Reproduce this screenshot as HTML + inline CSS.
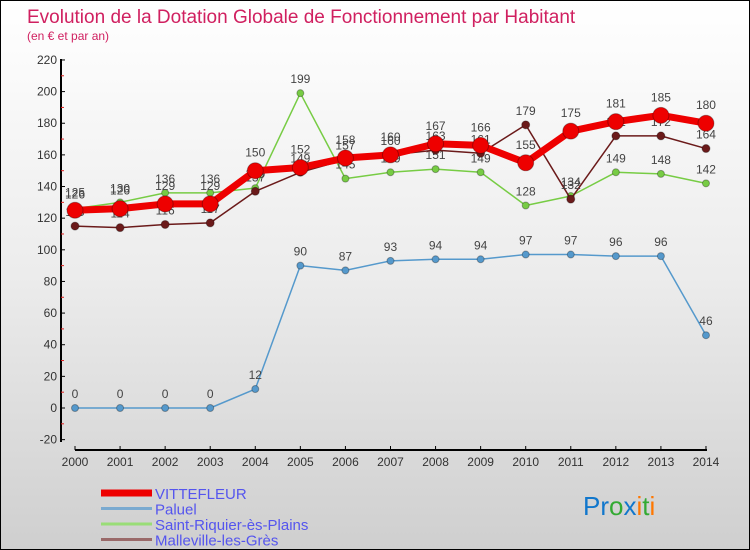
<!DOCTYPE html>
<html><head><meta charset="utf-8"><style>
body{margin:0;width:750px;height:550px;overflow:hidden;font-family:"Liberation Sans",sans-serif}
#wrap{position:relative;width:748px;height:548px;border:1px solid #000;background:linear-gradient(#fff 0%,#ececec 50%,#cfcfcf 100%)}
</style></head><body>
<div id="wrap">
<svg id="chart" width="748" height="548" style="position:absolute;left:0;top:0"></svg>
</div>
<script>
const years=["2000","2001","2002","2003","2004","2005","2006","2007","2008","2009","2010","2011","2012","2013","2014"];
const vittefleur=[125,126,129,129,150,152,158,160,167,166,155,175,181,185,180];
const paluel=[0,0,0,0,12,90,87,93,94,94,97,97,96,96,46];
const saintRiquier=[126,130,136,136,139,199,145,149,151,149,128,134,149,148,142];
const malleville=[115,114,116,117,137,149,157,160,163,161,179,132,172,172,164];
const yTicks=[-20,0,20,40,60,80,100,120,140,160,180,200,220];
const NS="http://www.w3.org/2000/svg";
const svg=document.getElementById('chart');
const x=i=>74+i*45.07;
const y=v=>407-v*1.582;
function el(t,a,p){const e=document.createElementNS(NS,t);for(const k in a)e.setAttribute(k,a[k]);(p||svg).appendChild(e);return e;}
function txt(s,a){const e=el('text',a);e.textContent=s;return e;}
let t=txt("Evolution de la Dotation Globale de Fonctionnement par Habitant",{x:26,y:22,fill:"#d02060","font-size":19});


t=txt("(en € et par an)",{x:26,y:39,fill:"#d02060","font-size":12});


// axes
let a=el('line',{x1:60,y1:58,x2:60,y2:441,stroke:"#000","stroke-width":2});


a=el('line',{x1:74,y1:449,x2:706,y2:449,stroke:"#000","stroke-width":2});


yTicks.forEach(v=>{
 el('line',{x1:60,y1:y(v),x2:64,y2:y(v),stroke:"#000"});
 if(v<220){const m=el('line',{x1:60,y1:y(v+10),x2:63,y2:y(v+10),stroke:"#e02020"});}
 const l=txt(String(v),{x:56,y:y(v)+4,"text-anchor":"end","font-size":12,fill:"#333"});
 
 
});
years.forEach((yr,i)=>{
 el('line',{x1:x(i),y1:445,x2:x(i),y2:449,stroke:"#000"});
 const l=txt(yr,{x:x(i),y:465,"text-anchor":"middle","font-size":12,fill:"#333"});
 
 
});
function series(data,color,w,r,name,labelDy){
 const g=el('g',{});
 
 
 el('polyline',{points:data.map((v,i)=>x(i)+","+y(v)).join(" "),fill:"none",stroke:color,"stroke-width":w,"stroke-linejoin":"round"},g);
 data.forEach((v,i)=>{
  const c=el('circle',{cx:x(i),cy:y(v),r:r,fill:color,stroke:"rgba(0,0,0,0.3)","stroke-width":1},g);
  
  
  const l=txt(String(v),{x:x(i),y:y(v)+labelDy,"text-anchor":"middle","font-size":12,fill:"#444"});
  
  
 });
}
series(paluel,"#5599cc",1.5,3.5,"series-paluel",-10);
series(saintRiquier,"#77cc44",1.5,3.5,"series-saint-riquier",-10);
series(malleville,"#6b1a1a",1.5,4,"series-malleville",-10);
series(vittefleur,"#ee0000",7,8,"series-vittefleur",-14);
// legend
const leg=[["VITTEFLEUR","#ee0000",7],["Paluel","#7aaad0",3],["Saint-Riquier-ès-Plains","#99dd77",3],["Malleville-les-Grès","#9a6a6a",3]];
leg.forEach((d,i)=>{
 const g=el('g',{});
 
 
 const yy=492+i*15.5;
 el('line',{x1:100,y1:yy,x2:151,y2:yy,stroke:d[1],"stroke-width":d[2]},g);
 const l=el('text',{x:154,y:yy+6,"font-size":15,fill:"#5555ee"},g);l.textContent=d[0];
});
const lg=el('text',{x:582,y:514,"font-size":26,"font-family":"Liberation Sans, sans-serif"});


[["Pr","#1177cc"],["o","#33aa33"],["x","#1177cc"],["i","#ff7700"],["t","#33aa33"],["i","#ff7700"]].forEach(p=>{const s=el('tspan',{fill:p[1]},lg);s.textContent=p[0];});
</script>
</body></html>
